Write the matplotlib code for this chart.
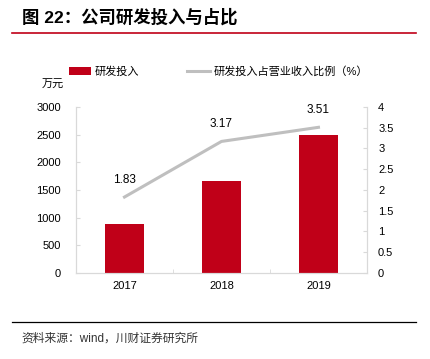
import matplotlib
matplotlib.use('Agg')
import matplotlib.pyplot as plt
from matplotlib.lines import Line2D
from matplotlib.patches import Patch

plt.rcParams['font.family'] = ['Liberation Sans', 'Noto Sans CJK SC', 'DejaVu Sans']

years = ['2017', '2018', '2019']
rd_spend = [886, 1663, 2495]          # 万元
rd_ratio = [1.83, 3.17, 3.51]         # %
left_ticks = [0, 500, 1000, 1500, 2000, 2500, 3000]
right_ticks = [0, 0.5, 1, 1.5, 2, 2.5, 3, 3.5, 4]
right_labels = ['0', '0.5', '1', '1.5', '2', '2.5', '3', '3.5', '4']

red = '#C00018'
grey = '#BFBFBF'
spine = '#D9D9D9'

fig = plt.figure(figsize=(4.3, 3.59), dpi=100)
ax = fig.add_axes([0.1767, 0.2396, 0.6767, 0.4624])
ax2 = ax.twinx()

x = list(range(len(years)))
ax.bar(x, rd_spend, width=0.4, color=red, zorder=2)
ax.set_xlim(-0.5, 2.5)
ax.set_ylim(0, 3000)
ax.set_yticks(left_ticks)
ax.set_xticks(x)
ax.set_xticklabels(years)
ax.set_xticks([0.5, 1.5], minor=True)

ax2.plot(x, rd_ratio, color=grey, lw=2.2, zorder=3)
ax2.set_ylim(0, 4)
ax2.set_yticks(right_ticks)
ax2.set_yticklabels(right_labels)
for xi, v in zip(x, rd_ratio):
    ax2.annotate(f'{v:.2f}', (xi, v), xytext=(0, 8), textcoords='offset points',
                 ha='center', va='bottom', fontsize=8.5, color='#000000')

for a in (ax, ax2):
    for s in a.spines.values():
        s.set_color(spine)
        s.set_linewidth(0.8)
    a.spines['top'].set_visible(False)
    a.tick_params(labelsize=8, colors='#000000', length=3, width=0.8,
                  direction='in')
    a.tick_params(axis='both', color=spine)
ax.tick_params(axis='x', which='major', length=0, pad=6)
ax.tick_params(axis='x', which='minor', length=3, direction='in', color=spine)
ax.tick_params(axis='y', pad=11)
ax2.tick_params(axis='y', pad=8)

handles = [Patch(facecolor=red, edgecolor='none'),
           Line2D([0], [0], color=grey, lw=2.2)]
labels = ['研发投入', '研发投入占营业收入比例（%）']
fig.legend(handles, labels, loc='center left', bbox_to_anchor=(0.16, 0.80),
           ncol=2, frameon=False, fontsize=8, handlelength=2.0,
           handleheight=0.7, columnspacing=4.3, handletextpad=0.36,
           borderpad=0, borderaxespad=0)

fig.text(0.098, 0.763, '万元', fontsize=8, ha='left', va='center')

fig.text(0.051, 0.952, '图 22：公司研发投入与占比', fontsize=12.5, fontweight='bold',
         ha='left', va='center')
fig.add_artist(Line2D([0.028, 0.967], [0.908, 0.908], color=red, lw=1.2))
fig.add_artist(Line2D([0.028, 0.967], [0.104, 0.104], color='#000000', lw=0.9))
fig.text(0.051, 0.056, '资料来源：wind，川财证券研究所', fontsize=8.5,
         color='#333333', ha='left', va='center')

fig.savefig('out.png', dpi=100)
